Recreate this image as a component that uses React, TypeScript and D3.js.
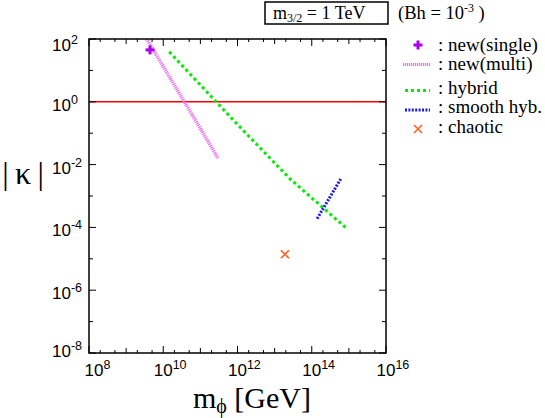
import React from "react";
import * as d3 from "d3";

const W = 545;
const H = 418;

// data (m_phi [GeV], |kappa|)
const newSingle: [number, number][] = [[4.4e9, 45]];
const newMulti: [number, number][] = [[3.6e9, 100], [3.0e11, 0.016]];
const hybrid: [number, number][] = [[1.45e10, 39], [1e12, 0.19], [2.6e13, 0.0035], [8.5e14, 9.5e-5]];
const smoothHyb: [number, number][] = [[1.4e14, 1.9e-4], [6.2e14, 3.7e-3]];
const chaotic: [number, number][] = [[1.9e13, 1.4e-5]];
const refLine = 1;

const xTickExps = [8, 10, 12, 14, 16];
const yTickExps = [2, 0, -2, -4, -6, -8];

const legendItems = [": new(single)", ": new(multi)", ": hybrid", ": smooth hyb.", ": chaotic"];

const L = 89, R = 386, T = 39, B = 353;

export default function App() {
  const x = d3.scaleLog().domain([1e8, 1e16]).range([L, R]);
  const y = d3.scaleLog().domain([1e-8, 1e2]).range([B, T]);
  const line = d3.line<[number, number]>().x((d) => x(d[0])).y((d) => y(d[1]));

  const serif = "'Liberation Serif', 'Times New Roman', serif";
  const sans = "'Liberation Sans', Arial, sans-serif";

  // ticks
  const xTicks: { v: number; len: number }[] = [];
  for (let e = 8; e <= 16; e++) {
    xTicks.push({ v: Math.pow(10, e), len: e % 2 === 0 ? 7 : 5 });
    if (e < 16) {
      xTicks.push({ v: 2 * Math.pow(10, e), len: 3 });
      xTicks.push({ v: 5 * Math.pow(10, e), len: 3 });
    }
  }
  const yTicks: { v: number; len: number }[] = [];
  for (let e = -8; e <= 2; e++) {
    yTicks.push({ v: Math.pow(10, e), len: e % 2 === 0 ? 7 : 4 });
  }

  const legendBase = [50.7, 70, 94, 113, 132.7];
  const plus = (cx: number, cy: number, s: number, color: string, key: string) => (
    <g key={key} stroke={color} strokeWidth={3}>
      <line x1={cx - s} x2={cx + s} y1={cy} y2={cy} />
      <line x1={cx} x2={cx} y1={cy - s} y2={cy + s} />
    </g>
  );
  const cross = (cx: number, cy: number, s: number, color: string, key: string) => (
    <g key={key} stroke={color} strokeWidth={1.6}>
      <line x1={cx - s} x2={cx + s} y1={cy - s} y2={cy + s} />
      <line x1={cx - s} x2={cx + s} y1={cy + s} y2={cy - s} />
    </g>
  );

  return (
    <svg width={W} height={H} style={{ position: "absolute", left: 0, top: 0, background: "#fff" }}>
      <defs>
        <clipPath id="plotclip">
          <rect x={L} y={T} width={R - L} height={B - T} />
        </clipPath>
      </defs>
      <rect x={0} y={0} width={W} height={H} fill="#fff" />

      {/* title */}
      <rect x={265} y={2} width={123} height={22} fill="none" stroke="#000" strokeWidth={1.5} />
      <text x={273} y={19} fontFamily={serif} fontSize={18}>
        m<tspan fontSize={12} dy={3}>3/2</tspan>
        <tspan dy={-3}> = 1 TeV</tspan>
      </text>
      <text x={398} y={19} fontFamily={serif} fontSize={18.5}>
        (Bh = 10<tspan fontSize={12} dy={-7}>-3</tspan>
        <tspan dy={7}> )</tspan>
      </text>

      {/* data */}
      <g clipPath="url(#plotclip)">
        <line x1={L} x2={R} y1={y(refLine)} y2={y(refLine)} stroke="#ff0000" strokeWidth={1.5} />
        <path d={line(newMulti) || ""} fill="none" stroke="#f070f0" strokeWidth={3.5} strokeDasharray="1.2 0.8" />
        <path d={line(hybrid) || ""} fill="none" stroke="#00ee00" strokeWidth={3} strokeDasharray="3 3" />
        <path d={line(smoothHyb) || ""} fill="none" stroke="#1a1aee" strokeWidth={3} strokeDasharray="2 1.4" />
        {newSingle.map((d, i) => plus(x(d[0]), y(d[1]), 4.5, "#aa00ee", "s" + i))}
        {chaotic.map((d, i) => cross(x(d[0]), y(d[1]), 4, "#ff6020", "c" + i))}
      </g>

      {/* frame */}
      <rect x={L} y={T} width={R - L} height={B - T} fill="none" stroke="#000" strokeWidth={1.5} />
      {xTicks.map((t, i) => (
        <g key={"xt" + i} stroke="#000" strokeWidth={1}>
          <line x1={x(t.v)} x2={x(t.v)} y1={B} y2={B - t.len} />
          <line x1={x(t.v)} x2={x(t.v)} y1={T} y2={T + t.len} />
        </g>
      ))}
      {yTicks.map((t, i) => (
        <g key={"yt" + i} stroke="#000" strokeWidth={1}>
          <line x1={L} x2={L + t.len} y1={y(t.v)} y2={y(t.v)} />
          <line x1={R} x2={R - t.len} y1={y(t.v)} y2={y(t.v)} />
        </g>
      ))}

      {/* x tick labels */}
      {xTickExps.map((e, i) => {
        const cx = x(Math.pow(10, e)) + (i === 0 ? 5 : 0);
        return (
          <text key={"xl" + e} x={cx - 9.5} y={376} fontFamily={sans} fontSize={17}>
            10<tspan fontSize={12.5} dy={-7}>{e}</tspan>
          </text>
        );
      })}

      {/* y tick labels */}
      {yTickExps.map((e, i) => {
        const off = i === 0 ? 12 : i === yTickExps.length - 1 ? 4 : 9;
        return (
          <text key={"yl" + e} x={52} y={y(Math.pow(10, e)) + off} fontFamily={sans} fontSize={17}>
            10<tspan fontSize={12.5} dy={-7}>{e}</tspan>
          </text>
        );
      })}

      {/* axis titles */}
      <text x={23} y={184} textAnchor="middle" fontFamily={serif} fontSize={32}>
        {"|\u2009κ\u2009|"}
      </text>
      <text x={252} y={408} textAnchor="middle" fontFamily={serif} fontSize={30}>
        m<tspan fontSize={20} dy={5}>{"\u03D5"}</tspan>
        <tspan dy={-5}> [GeV]</tspan>
      </text>

      {/* legend */}
      {plus(418, 45, 4.5, "#aa00ee", "lp")}
      <line x1={403} x2={430} y1={64.5} y2={64.5} stroke="#f070f0" strokeWidth={3} strokeDasharray="1.2 0.8" />
      <line x1={405} x2={430} y1={90.5} y2={90.5} stroke="#00ee00" strokeWidth={3} strokeDasharray="3 3" />
      <line x1={405} x2={430} y1={110} y2={110} stroke="#1a1aee" strokeWidth={3} strokeDasharray="2 1.4" />
      {cross(418, 129, 4, "#ff6020", "lc")}
      {legendItems.map((s, i) => (
        <text key={"lg" + i} x={438} y={legendBase[i]} fontFamily={serif} fontSize={19}>
          {s}
        </text>
      ))}
    </svg>
  );
}
